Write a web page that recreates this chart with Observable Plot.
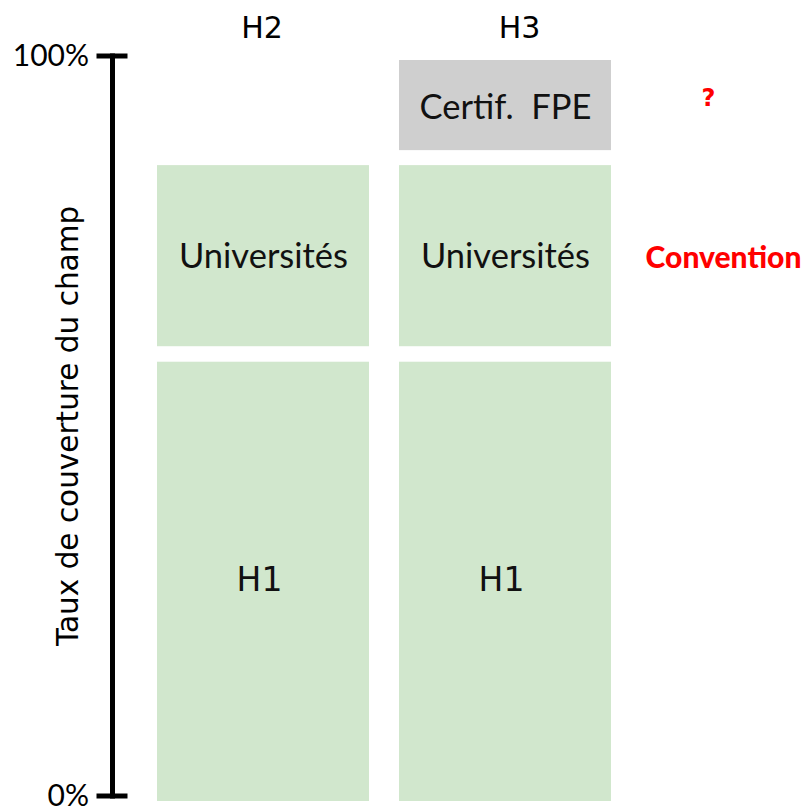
<!DOCTYPE html>
<html>
<head>
<meta charset="utf-8">
<script src="https://cdn.jsdelivr.net/npm/d3@7"></script>
<script src="https://cdn.jsdelivr.net/npm/@observablehq/plot@0.6"></script>
<style>
  html, body { margin: 0; padding: 0; background: #fff; }
  #chart svg { display: block; }
</style>
</head>
<body>
<div id="chart"></div>
<script>
// Columns (top labels)
const columns = ["H2", "H3"];
// Stacked segments, as share of the field covered (0..1)
const segmentColumn = ["H2", "H2", "H3", "H3", "H3"];
const segmentLabel  = ["H1", "Universités", "H1", "Universités", "Certif.\u00a0 FPE"];
const segmentStart  = [0, 0.597, 0, 0.597, 0.862];
const segmentEnd    = [0.597, 0.862, 0.597, 0.862, 1.0];
const segmentStatus = ["known", "known", "known", "known", "uncertain"];
// Side notes on H3 segments
const noteLabel   = ["?", "Convention"];
const noteSegment = [4, 3];
// Axis
const yTicks = [0, 1];
const yLabel = "Taux de couverture du champ";

const segments = segmentColumn.map((c, i) => ({
  col: c, label: segmentLabel[i], start: segmentStart[i], end: segmentEnd[i], status: segmentStatus[i]
}));
const notes = noteLabel.map((t, i) => {
  const s = segments[noteSegment[i]];
  return {col: s.col, text: t, mid: (s.start + s.end) / 2};
});

const GREEN = "#d1e7cd", GRAY = "#cfcfcf";
const humanist = "Lato, 'Open Sans', sans-serif";
const dejavu = "'DejaVu Sans', sans-serif";
const fillOf = d => d.status === "uncertain" ? GRAY : GREEN;
const mid = d => (d.start + d.end) / 2;

const chart = Plot.plot({
  width: 807,
  height: 811,
  marginTop: 55.5,
  marginBottom: 15.5,
  marginLeft: 112,
  marginRight: 0,
  style: {background: "#fff", color: "#000", overflow: "visible"},
  x: {domain: columns, range: [157, 611], paddingInner: 0.124, paddingOuter: 0, round: false, axis: null},
  y: {domain: [0, 1], axis: null},
  marks: [
    // bottom segments
    Plot.rectY(segments, {filter: d => d.start === 0, x: "col", y1: "start", y2: "end", fill: fillOf, insetTop: 8, insetBottom: -5.5}),
    // middle segments
    Plot.rectY(segments, {filter: d => d.start > 0 && d.end < 1, x: "col", y1: "start", y2: "end", fill: fillOf, insetTop: 7.5, insetBottom: 7.5}),
    // top segments
    Plot.rectY(segments, {filter: d => d.end === 1, x: "col", y1: "start", y2: "end", fill: fillOf, insetTop: 4.5, insetBottom: 7.5}),
    // segment labels
    Plot.text(segments, {filter: d => d.label === "H1", x: "col", y: mid, text: "label", fontSize: 33, fontFamily: dejavu, fill: "#111", dx: -4, dy: 5}),
    Plot.text(segments, {filter: d => d.label !== "H1", x: "col", y: mid, text: "label", fontSize: 34.5, fontFamily: humanist, fill: "#111", dy: 1}),
    // side notes
    Plot.text(notes, {filter: d => d.text === "?", x: "col", y: "mid", text: "text", dx: 203, dy: -9, fontSize: 24, fontWeight: "bold", fontFamily: dejavu, fill: "#ff0000"}),
    Plot.text(notes, {filter: d => d.text !== "?", x: "col", y: "mid", text: "text", dx: 218, dy: 2, fontSize: 30, fontWeight: 900, fontFamily: humanist, fill: "#ff0000"}),
    // top column labels
    Plot.axisX({anchor: "top", ticks: ["H2"], tickSize: 0, tickPadding: 18, fontSize: 30, fontFamily: dejavu, label: null, dx: -1.5}),
    Plot.axisX({anchor: "top", ticks: ["H3"], tickSize: 0, tickPadding: 18, fontSize: 30, fontFamily: dejavu, label: null, dx: 14}),
    // vertical axis line and T-caps
    Plot.frame({anchor: "left", strokeWidth: 5, stroke: "#000"}),
    Plot.axisY({ticks: yTicks, tickFormat: d3.format(".0%"), tickSize: 31, dx: 15.5, tickPadding: 8, strokeWidth: 5, stroke: "#000", fontSize: 30, fontFamily: humanist, label: null}),
    // axis title
    Plot.text([yLabel], {frameAnchor: "left", text: d => d, rotate: -90, textAnchor: "middle", dx: -44, fontSize: 29.5, fontFamily: dejavu, fill: "#000"})
  ]
});
document.getElementById("chart").append(chart);
</script>
</body>
</html>
